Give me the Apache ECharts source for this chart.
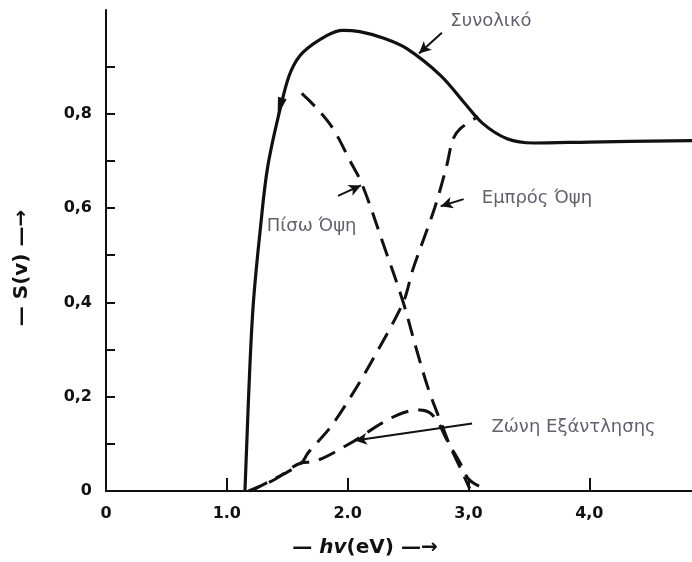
<!DOCTYPE html>
<html>
<head>
<meta charset="utf-8">
<script src="https://cdn.jsdelivr.net/npm/echarts@6/dist/echarts.min.js"></script>
<style>html,body{margin:0;padding:0;background:#fff}#c{width:692px;height:562px}</style>
</head>
<body>
<div id="c"></div>
<script>
// ---- data ----
const totalX = [1.15, 1.165, 1.19, 1.22, 1.275, 1.34, 1.46, 1.53, 1.63, 1.83, 1.96, 2.1, 2.3, 2.49, 2.77, 2.96, 3.12, 3.32, 3.54, 4.0, 4.85];
const totalY = [0.0, 0.1, 0.26, 0.4, 0.55, 0.69, 0.83, 0.89, 0.93, 0.966, 0.977, 0.974, 0.96, 0.938, 0.881, 0.825, 0.779, 0.747, 0.738, 0.740, 0.743];

const backX = [1.62, 1.75, 1.88, 2.02, 2.12, 2.3, 2.46, 2.57, 2.67, 2.78, 2.85, 2.93, 3.01];
const backY = [0.843, 0.81, 0.768, 0.70, 0.65, 0.52, 0.40, 0.30, 0.215, 0.14, 0.094, 0.05, 0.005];

const frontX = [1.2, 1.35, 1.5, 1.62, 1.67, 1.86, 2.05, 2.21, 2.46, 2.54, 2.72, 2.82, 2.87, 2.93, 3.08];
const frontY = [0.0, 0.02, 0.04, 0.06, 0.08, 0.136, 0.21, 0.28, 0.40, 0.47, 0.60, 0.69, 0.745, 0.768, 0.794];

const depletionX = [1.18, 1.4, 1.62, 1.71, 2.0, 2.29, 2.46, 2.60, 2.68, 2.75, 2.82, 2.93, 3.01, 3.16];
const depletionY = [0.0, 0.025, 0.06, 0.062, 0.098, 0.145, 0.166, 0.172, 0.166, 0.145, 0.109, 0.06, 0.023, 0.002];

const xTickLabels = {0: '0', 1: '1.0', 2: '2.0', 3: '3,0', 4: '4,0'};
const yTickLabels = {0: '0', 0.2: '0,2', 0.4: '0,4', 0.6: '0,6', 0.8: '0,8'};

const labelNames = ['Συνολικό', 'Εμπρός Όψη', 'Πίσω Όψη', 'Ζώνη Εξάντλησης'];
const labelAnchors = [[2.85, 0.995], [3.11, 0.62], [1.33, 0.562], [3.19, 0.136]];
const arrowFrom = [[2.78, 0.972], [2.96, 0.619], [1.92, 0.626], [3.03, 0.143]];
const arrowTo = [[2.59, 0.928], [2.77, 0.604], [2.11, 0.648], [2.06, 0.107]];

// ---- chart ----
const pairs = (xs, ys) => xs.map((x, i) => [x, ys[i]]);
const chart = echarts.init(document.getElementById('c'));
const tickFont = {fontFamily: 'DejaVu Sans', fontWeight: 'bold', fontSize: 16, color: '#111'};
const annColor = '#3a3a4a';

chart.setOption({
  animation: false,
  backgroundColor: '#fff',
  grid: {left: 106, right: 0, top: 10, bottom: 71},
  xAxis: {
    type: 'value', min: 0, max: 4.85,
    axisLine: {show: true, onZero: false, lineStyle: {color: '#111', width: 2}},
    axisTick: {show: true, inside: true, length: 13, lineStyle: {color: '#111', width: 2}, customValues: [1, 2, 3, 4]},
    axisLabel: Object.assign({customValues: [0, 1, 2, 3, 4], margin: 15, formatter: v => xTickLabels[Math.round(v)] ?? ''}, tickFont),
    splitLine: {show: false}
  },
  yAxis: {
    type: 'value', min: 0, max: 1.02,
    axisLine: {show: true, onZero: false, lineStyle: {color: '#111', width: 2}},
    axisTick: {show: true, inside: true, length: 9, lineStyle: {color: '#111', width: 2}, customValues: [0.1, 0.2, 0.3, 0.4, 0.5, 0.6, 0.7, 0.8, 0.9]},
    axisLabel: Object.assign({customValues: [0, 0.2, 0.4, 0.6, 0.8], margin: 14, formatter: v => yTickLabels[Math.round(v * 10) / 10] ?? ''}, tickFont),
    splitLine: {show: false}
  },
  series: [
    {
      name: 'Συνολικό', type: 'line', smooth: 0.35, symbol: 'none',
      data: pairs(totalX, totalY),
      lineStyle: {color: '#111', width: 3.2},
      markPoint: {
        silent: true,
        data: [{coord: [1.44, 0.815], symbol: 'triangle', symbolSize: [9, 18], symbolRotate: 165, itemStyle: {color: '#111'}, label: {show: false}}]
      }
    },
    {
      name: 'Πίσω Όψη', type: 'line', smooth: 0.35, symbol: 'none',
      data: pairs(backX, backY),
      lineStyle: {color: '#111', width: 3, type: [18, 10]}
    },
    {
      name: 'Εμπρός Όψη', type: 'line', smooth: 0.3, symbol: 'none',
      data: pairs(frontX, frontY),
      lineStyle: {color: '#111', width: 3, type: [18, 10]}
    },
    {
      name: 'Ζώνη Εξάντλησης', type: 'line', smooth: 0.35, symbol: 'none',
      data: pairs(depletionX, depletionY),
      lineStyle: {color: '#111', width: 3, type: [18, 10], dashOffset: 6}
    },
    {
      name: 'annotations', type: 'scatter', symbolSize: 0, silent: true,
      data: labelAnchors.map((p, i) => ({value: p, name: labelNames[i]})),
      label: {show: true, position: 'right', distance: 0, formatter: p => p.name,
        fontFamily: 'DejaVu Sans', fontSize: 18, color: annColor},
      markLine: {
        silent: true, symbol: ['none', 'arrow'], symbolSize: [9, 12],
        lineStyle: {color: '#111', width: 2, type: 'solid'},
        label: {show: false},
        data: arrowFrom.map((p, i) => [{coord: p}, {coord: arrowTo[i]}])
      }
    }
  ],
  graphic: [
    {type: 'text', x: 22, y: 268, rotation: Math.PI / 2,
      style: {text: '— S(v) —→', fontFamily: 'DejaVu Sans', fontWeight: 'bold', fontSize: 20, fill: '#111', align: 'center', verticalAlign: 'middle'}},
    {type: 'text', x: 365, y: 548,
      style: {text: '— {i|hv}(eV) —→', fontFamily: 'DejaVu Sans', fontWeight: 'bold', fontSize: 20, fill: '#111', align: 'center', verticalAlign: 'middle',
        rich: {i: {fontStyle: 'italic', fontFamily: 'DejaVu Sans', fontWeight: 'bold', fontSize: 20, fill: '#111'}}}}
  ]
});
</script>
</body>
</html>
